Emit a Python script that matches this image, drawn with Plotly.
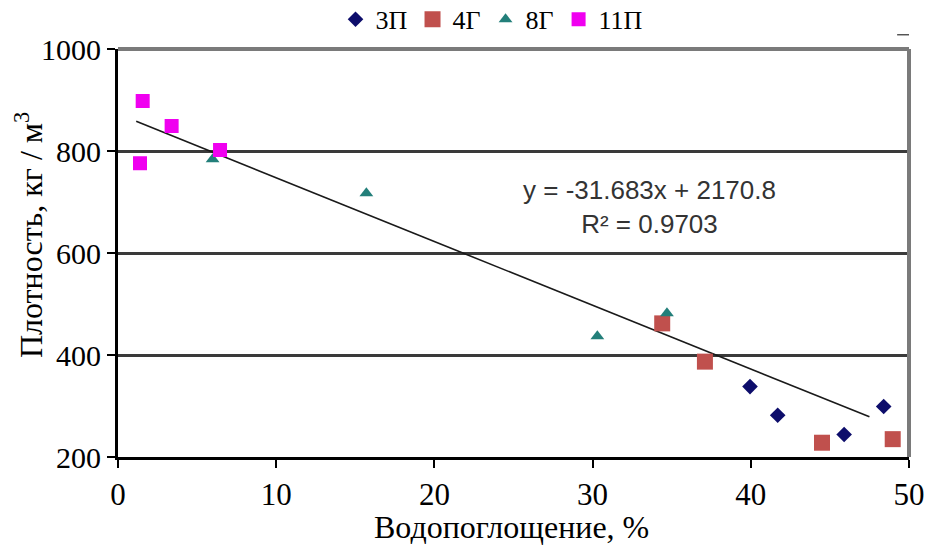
import plotly.graph_objects as go

# Water absorption (%) vs density (kg/m3) for four sample series
x_3p = [39.95, 41.7, 45.9, 48.4]
y_3p = [338, 282, 244, 299]

x_4g = [34.4, 37.1, 44.5, 48.97]
y_4g = [462, 387, 228, 235]

x_8g = [5.98, 15.7, 30.3, 34.7]
y_8g = [784, 717, 437, 482]

x_11p = [1.56, 3.39, 1.39, 6.45]
y_11p = [898, 849, 776, 802]

# Linear trend line as drawn on the chart
trend_slope = -12.5
trend_intercept = 872.5
trend_x = [1.15, 47.5]
trend_y = [trend_intercept + trend_slope * v for v in trend_x]

equation_text = "y = -31.683x + 2170.8<br>R² = 0.9703"

x_ticks = [0, 10, 20, 30, 40, 50]
y_ticks = [200, 400, 600, 800, 1000]

x_title = "Водопоглощение, %"
y_title = "Плотность, кг / м<sup>3</sup>"

serif = "Liberation Serif"

fig = go.Figure()

fig.add_trace(go.Scatter(x=trend_x, y=trend_y, mode="lines",
                         line=dict(color="#1a1a1a", width=1.6),
                         showlegend=False, hoverinfo="skip"))

fig.add_trace(go.Scatter(x=x_3p, y=y_3p, mode="markers", name="3П",
                         marker=dict(symbol="diamond", size=12, color="#0d0d6b")))
fig.add_trace(go.Scatter(x=x_4g, y=y_4g, mode="markers", name="4Г",
                         marker=dict(symbol="square", size=16, color="#c0504d")))
fig.add_trace(go.Scatter(x=x_8g, y=y_8g, mode="markers", name="8Г",
                         marker=dict(symbol="triangle-up", size=12, color="#237f7a")))
fig.add_trace(go.Scatter(x=x_11p, y=y_11p, mode="markers", name="11П",
                         marker=dict(symbol="square", size=14, color="#f000f0")))

fig.add_annotation(x=33.6, y=690, text=equation_text, showarrow=False,
                   font=dict(family="Liberation Sans", size=26, color="#333333"),
                   align="center")

# Axis titles
fig.add_annotation(xref="paper", yref="paper", x=0.497, y=0, yanchor="middle",
                   yshift=-70, text=x_title, showarrow=False,
                   font=dict(family=serif, size=32, color="black"))
fig.add_annotation(xref="paper", yref="paper", x=0, y=0.544, xanchor="center",
                   yanchor="middle", xshift=-89, textangle=-90, text=y_title,
                   showarrow=False, font=dict(family=serif, size=32, color="black"))

# Gray frame on the top and right sides of the plot area
fig.add_shape(type="line", xref="paper", yref="paper", x0=0, x1=1, y0=1, y1=1,
              line=dict(color="#7a7a7a", width=4))
fig.add_shape(type="line", xref="paper", yref="paper", x0=1, x1=1, y0=0, y1=1,
              line=dict(color="#7a7a7a", width=4))
# small mark at the top right
fig.add_shape(type="line", xref="paper", yref="paper", x0=0.985, x1=1.0, y0=1.035, y1=1.035,
              line=dict(color="#555555", width=1.5))

fig.update_layout(
    width=933, height=547,
    margin=dict(l=118, r=24, t=49, b=90, autoexpand=False),
    paper_bgcolor="white", plot_bgcolor="white",
    font=dict(family=serif, color="black"),
    legend=dict(orientation="h", x=0.275, xanchor="left", y=1.015, yanchor="bottom",
                font=dict(family=serif, size=26), itemwidth=30,
                tracegroupgap=0, bgcolor="rgba(0,0,0,0)"),
    xaxis=dict(range=[0, 50], tickvals=x_ticks, showgrid=False, zeroline=False,
               showline=True, linecolor="black", linewidth=3,
               ticks="outside", ticklen=8, tickwidth=2, tickcolor="black",
               tickfont=dict(family=serif, size=31)),
    yaxis=dict(range=[200, 1000], tickvals=y_ticks, showgrid=True,
               gridcolor="#3a3a3a", gridwidth=2.5, zeroline=False,
               showline=True, linecolor="black", linewidth=3,
               ticks="outside", ticklen=8, tickwidth=2, tickcolor="black",
               tickfont=dict(family=serif, size=30)),
)

fig.write_html("out.html")
